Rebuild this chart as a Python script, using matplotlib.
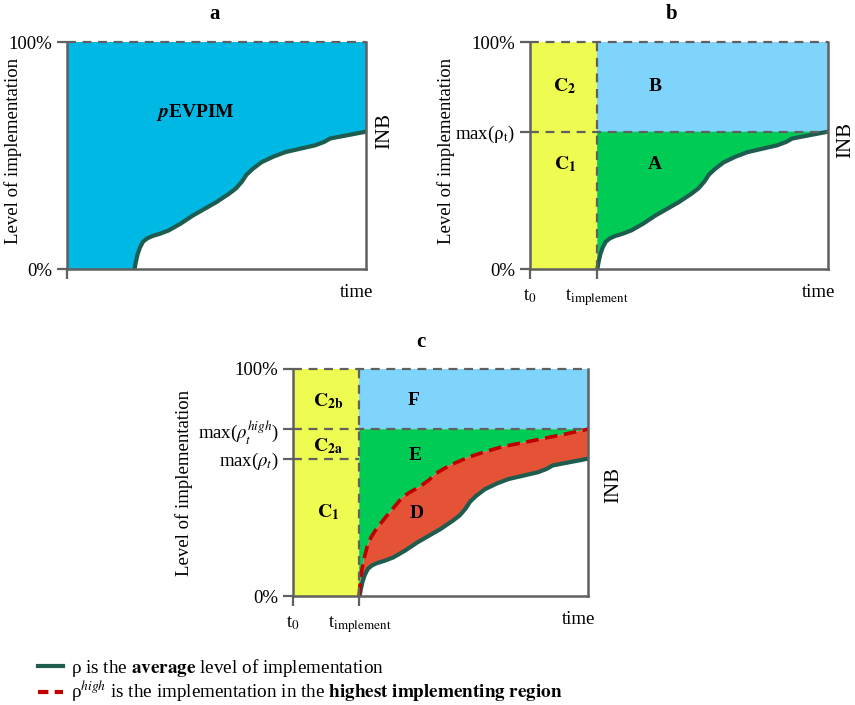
import numpy as np
import matplotlib
matplotlib.use("Agg")
import matplotlib.pyplot as plt
from matplotlib.lines import Line2D

plt.rcParams['font.family'] = ['Liberation Serif', 'DejaVu Serif']
plt.rcParams['mathtext.fontset'] = 'stix'

# time axis runs 0..1, implementation starts here
t_impl = 0.225

# average level of implementation (rho)
rho_x = [0.226, 0.230, 0.236, 0.244, 0.254, 0.268, 0.285, 0.31, 0.34, 0.38, 0.42, 0.46, 0.50,
         0.54, 0.565, 0.585, 0.60, 0.62, 0.65, 0.69, 0.73, 0.78, 0.83, 0.86, 0.88, 0.92, 0.96, 1.0]
rho_y = [0.0, 0.03, 0.065, 0.095, 0.12, 0.135, 0.145, 0.155, 0.17, 0.20, 0.235, 0.265, 0.295,
         0.33, 0.355, 0.385, 0.415, 0.44, 0.47, 0.495, 0.515, 0.53, 0.545, 0.56, 0.575, 0.585, 0.595, 0.605]

# highest implementing region (rho_high)
high_x = [0.224, 0.228, 0.234, 0.242, 0.252, 0.265, 0.285, 0.316, 0.345, 0.372, 0.40, 0.428,
          0.46, 0.485, 0.53, 0.598, 0.65, 0.71, 0.77, 0.823, 0.88, 0.936, 1.0]
high_y = [0.0, 0.06, 0.12, 0.17, 0.22, 0.26, 0.30, 0.35, 0.395, 0.437, 0.46, 0.48, 0.51, 0.54,
          0.575, 0.613, 0.635, 0.658, 0.673, 0.687, 0.702, 0.717, 0.735]

rho_x = np.array(rho_x)
rho_y = np.array(rho_y)
high_x = np.array(high_x)
high_y = np.array(high_y)
max_rho = rho_y.max()
max_high = high_y.max()

# colours
c_blue = '#00b8e4'
c_lblue = '#7fd4fb'
c_green = '#00cc55'
c_yellow = '#eefb50'
c_red = '#e55336'
c_line = '#1d5c4e'
c_dash = '#c00000'
c_grey = '#606060'

fig = plt.figure(figsize=(8.55, 7.05), dpi=100)
ax_a = fig.add_axes([0.0784, 0.6184, 0.3497, 0.322])
ax_b = fig.add_axes([0.6199, 0.6184, 0.3485, 0.322])
ax_c = fig.add_axes([0.3427, 0.1546, 0.3450, 0.322])


def frame(ax, xticks, xlabels, yticks, ylabels):
    ax.set_xlim(0, 1)
    ax.set_ylim(0, 1)
    ax.spines['top'].set_visible(False)
    for s in ['left', 'bottom', 'right']:
        ax.spines[s].set_color(c_grey)
        ax.spines[s].set_linewidth(1.8)
        ax.spines[s].set_zorder(5)
    ax.axhline(1.0, color=c_grey, lw=1.6, ls=(0, (4, 3)), zorder=5, clip_on=False)
    ax.set_xticks(xticks)
    ax.set_xticklabels(xlabels, fontsize=13.5)
    ax.set_yticks(yticks)
    ax.set_yticklabels(ylabels, fontsize=13.5)
    ax.tick_params(color=c_grey, width=1.6, length=7)
    ax.tick_params(axis='x', pad=6)
    ax.set_ylabel('Level of implementation', fontsize=13.5)
    ax.text(1.023, -0.105, 'time', transform=ax.transAxes, ha='right', va='center', fontsize=13.5)


# ---- panel a ----
ax = ax_a
poly_x = np.concatenate([[0, rho_x[0]], rho_x, [1, 0]])
poly_y = np.concatenate([[0, 0], rho_y, [1, 1]])
ax.fill(poly_x, poly_y, color=c_blue, lw=0)
ax.plot(rho_x, rho_y, color=c_line, lw=3, solid_capstyle='round', zorder=4)
frame(ax, [0], [''], [0, 1], ['0%', '100%'])
ax.yaxis.set_label_coords(-0.15, 0.52)
ax.text(0.428, 0.69, r'$\mathbfit{p}$EVPIM', fontsize=14, fontweight='bold', ha='center', va='center')
ax.text(1.064, 0.61, 'INB', rotation=90, transform=ax.transAxes, ha='center', va='center', fontsize=15)
fig.text(215 / 855, 1 - 14 / 705, 'a', fontsize=15, fontweight='bold', ha='center', va='center')

# ---- panel b ----
ax = ax_b
ax.fill_between([0, t_impl], 0, 1, color=c_yellow, lw=0)
ax.fill_between([t_impl, 1], max_rho, 1, color=c_lblue, lw=0)
ax.fill(np.concatenate([rho_x, [1, t_impl]]), np.concatenate([rho_y, [max_rho, max_rho]]),
        color=c_green, lw=0)
ax.plot(rho_x, rho_y, color=c_line, lw=3, solid_capstyle='round', zorder=4)
ax.axhline(max_rho, color=c_grey, lw=1.6, ls=(0, (4, 3)), zorder=5)
ax.axvline(t_impl, color=c_grey, lw=1.6, ls=(0, (4, 3)), zorder=5)
frame(ax, [0, t_impl], [r't$_0$', r't$_{\mathrm{implement}}$'],
      [0, max_rho, 1], ['0%', r'max($\mathrm{\rho_t}$)', '100%'])
ax.yaxis.set_label_coords(-0.252, 0.52)
for lab, x, y in [(r'$\mathbf{C_2}$', 0.117, 0.805), (r'$\mathbf{C_1}$', 0.117, 0.46),
                  ('B', 0.42, 0.805), ('A', 0.42, 0.46)]:
    ax.text(x, y, lab, fontsize=14, fontweight='bold', ha='center', va='center')
ax.text(1.06, 0.57, 'INB', rotation=90, transform=ax.transAxes, ha='center', va='center', fontsize=15)
fig.text(672 / 855, 1 - 14 / 705, 'b', fontsize=15, fontweight='bold', ha='center', va='center')

# ---- panel c ----
ax = ax_c
ax.fill_between([0, t_impl], 0, 1, color=c_yellow, lw=0)
ax.fill_between([t_impl, 1], max_high, 1, color=c_lblue, lw=0)
ax.fill(np.concatenate([high_x, [1, t_impl]]), np.concatenate([high_y, [max_high, max_high]]),
        color=c_green, lw=0)
ax.fill(np.concatenate([high_x, rho_x[::-1]]), np.concatenate([high_y, rho_y[::-1]]),
        color=c_red, lw=0)
ax.plot(rho_x, rho_y, color=c_line, lw=3, solid_capstyle='round', zorder=4)
ax.plot(high_x, high_y, color=c_dash, lw=2.6, ls=(0, (3.5, 1.8)), zorder=4)
ax.axhline(max_high, color=c_grey, lw=1.6, ls=(0, (4, 3)), zorder=5)
ax.plot([0, t_impl], [max_rho, max_rho], color=c_grey, lw=1.6, ls=(0, (4, 3)), zorder=5)
ax.axvline(t_impl, color=c_grey, lw=1.6, ls=(0, (4, 3)), zorder=5)
frame(ax, [0, t_impl], [r't$_0$', r't$_{\mathrm{implement}}$'],
      [0, max_rho, max_high, 1],
      ['0%', r'max($\rho_t$)', r'max($\rho_t^{high}$)', '100%'])
ax.yaxis.set_label_coords(-0.34, 0.5)
for lab, x, y in [(r'$\mathbf{C_{2b}}$', 0.119, 0.86), (r'$\mathbf{C_{2a}}$', 0.119, 0.66),
                  (r'$\mathbf{C_1}$', 0.119, 0.37), ('F', 0.41, 0.86), ('E', 0.415, 0.617),
                  ('D', 0.42, 0.365)]:
    ax.text(x, y, lab, fontsize=14, fontweight='bold', ha='center', va='center')
ax.text(1.088, 0.49, 'INB', rotation=90, transform=ax.transAxes, ha='center', va='center', fontsize=15)
fig.text(421 / 855, 1 - 342 / 705, 'c', fontsize=15, fontweight='bold', ha='center', va='center')

# ---- legend ----
handles = [Line2D([], [], color=c_line, lw=3),
           Line2D([], [], color=c_dash, lw=3, ls=(0, (2.5, 1.5)))]
labels = [r'ρ is the $\mathbf{average}$ level of implementation',
          r'ρ$^{high}$ is the implementation in the $\mathbf{highest\ implementing\ region}$']
fig.legend(handles, labels, loc='upper left', bbox_to_anchor=(0.035, 1 - 649 / 705),
           frameon=False, fontsize=13.8, handlelength=1.3, handletextpad=0.45,
           labelspacing=0.0, borderaxespad=0)

fig.savefig('out.png', dpi=100)
